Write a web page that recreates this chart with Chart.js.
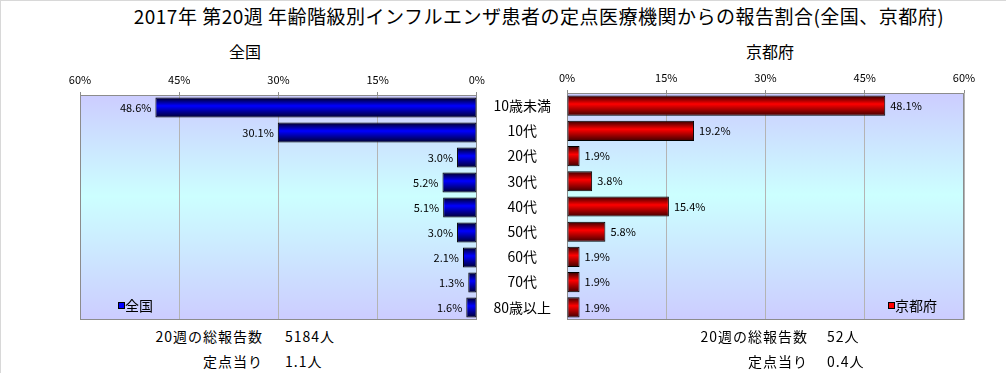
<!DOCTYPE html>
<html><head><meta charset="utf-8">
<script src="https://cdn.jsdelivr.net/npm/chart.js@4.4.1/dist/chart.umd.min.js"></script>
<style>
body{margin:0;background:#fff;}
#wrap{position:relative;width:1006px;height:373px;overflow:hidden;font-family:"Noto Sans CJK JP",sans-serif;color:#000;background:#fff;border-top:1px solid #d8d8d8;border-left:1px solid #d8d8d8;box-sizing:border-box;}
.t{position:absolute;white-space:nowrap;}
canvas{position:absolute;}
</style></head><body>
<div id="wrap">
  <div class="t" id="title" style="left:0;width:1076px;top:5px;text-align:center;font-size:19px;line-height:20px;letter-spacing:0.5px;"></div>
  <div class="t" id="subL" style="left:144px;width:200px;top:41px;text-align:center;font-size:16px;line-height:18px;"></div>
  <div class="t" id="subR" style="left:669px;width:200px;top:41px;text-align:center;font-size:16px;line-height:18px;"></div>
  <canvas id="cL" width="490" height="265" style="left:0;top:60px;"></canvas>
  <canvas id="cR" width="510" height="267" style="left:480px;top:58px;"></canvas>
  <div class="t" id="sumL1a" style="left:62px;width:200px;top:326px;text-align:right;font-size:14px;line-height:18px;letter-spacing:1px;"></div>
  <div class="t" id="sumL1b" style="left:284px;top:326px;font-size:14px;line-height:18px;letter-spacing:1px;"></div>
  <div class="t" id="sumL2a" style="left:62px;width:200px;top:351px;text-align:right;font-size:14px;line-height:18px;letter-spacing:1px;"></div>
  <div class="t" id="sumL2b" style="left:284px;top:351px;font-size:14px;line-height:18px;letter-spacing:1px;"></div>
  <div class="t" id="sumR1a" style="left:607px;width:200px;top:326px;text-align:right;font-size:14px;line-height:18px;letter-spacing:1px;"></div>
  <div class="t" id="sumR1b" style="left:826px;top:326px;font-size:14px;line-height:18px;letter-spacing:1px;"></div>
  <div class="t" id="sumR2a" style="left:607px;width:200px;top:351px;text-align:right;font-size:14px;line-height:18px;letter-spacing:1px;"></div>
  <div class="t" id="sumR2b" style="left:826px;top:351px;font-size:14px;line-height:18px;letter-spacing:1px;"></div>
</div>
<script>
// ---- data ----
const titleText = '2017年 第20週 年齢階級別インフルエンザ患者の定点医療機関からの報告割合(全国、京都府)';
const leftName = '全国';
const rightName = '京都府';
const categories = ['10歳未満','10代','20代','30代','40代','50代','60代','70代','80歳以上'];
const nationalValues = [48.6, 30.1, 3.0, 5.2, 5.1, 3.0, 2.1, 1.3, 1.6];
const kyotoValues = [48.1, 19.2, 1.9, 3.8, 15.4, 5.8, 1.9, 1.9, 1.9];
const axisMin = 0, axisMax = 60, axisStep = 15;
const summaryLabels = ['20週の総報告数', '定点当り'];
const nationalSummary = ['5184人', '1.1人'];
const kyotoSummary = ['52人', '0.4人'];

document.getElementById('title').textContent = titleText;
document.getElementById('subL').textContent = leftName;
document.getElementById('subR').textContent = rightName;
document.getElementById('sumL1a').textContent = summaryLabels[0];
document.getElementById('sumL2a').textContent = summaryLabels[1];
document.getElementById('sumR1a').textContent = summaryLabels[0];
document.getElementById('sumR2a').textContent = summaryLabels[1];
document.getElementById('sumL1b').textContent = nationalSummary[0];
document.getElementById('sumL2b').textContent = nationalSummary[1];
document.getElementById('sumR1b').textContent = kyotoSummary[0];
document.getElementById('sumR2b').textContent = kyotoSummary[1];

const FONT = '"Noto Sans CJK JP", sans-serif';

function barGradient(c0, c1, c2) {
  return function (ctx) {
    const chart = ctx.chart;
    if (!chart.chartArea || ctx.dataIndex === undefined) return c1;
    const ys = chart.scales.y;
    const y = ys.getPixelForValue(ctx.dataIndex);
    const h = ys.height / categories.length * 0.8;
    const g = chart.ctx.createLinearGradient(0, y - h / 2, 0, y + h / 2);
    g.addColorStop(0, c0);
    g.addColorStop(0.42, c1);
    g.addColorStop(1, c2);
    return g;
  };
}

const areaPlugin = {
  id: 'area',
  beforeDraw(chart) {
    const {ctx, chartArea: a} = chart;
    const g = ctx.createLinearGradient(0, a.top, 0, a.bottom);
    g.addColorStop(0, '#ccccff');
    g.addColorStop(0.45, '#ccffff');
    g.addColorStop(1, '#ccccff');
    ctx.save();
    ctx.fillStyle = g;
    ctx.fillRect(a.left, a.top, a.right - a.left, a.bottom - a.top);
    ctx.restore();
  },
  beforeDatasetsDraw(chart) {
    const {ctx, chartArea: a} = chart;
    ctx.save();
    ctx.strokeStyle = '#8c8c8c';
    ctx.lineWidth = 1;
    ctx.strokeRect(Math.round(a.left) + 0.5, Math.round(a.top) + 0.5, Math.round(a.right - a.left) - 1, Math.round(a.bottom - a.top) - 1);
    ctx.restore();
  },
  afterDatasetsDraw(chart, args, opts) {
    const {ctx, chartArea: a} = chart;
    const meta = chart.getDatasetMeta(0);
    const vals = chart.data.datasets[0].data;
    ctx.save();
    ctx.font = '11px ' + FONT;
    ctx.fillStyle = '#000';
    ctx.textBaseline = 'middle';
    meta.data.forEach((el, i) => {
      const txt = vals[i].toFixed(1) + '%';
      if (opts.side === 'left') {
        ctx.textAlign = 'right';
        ctx.fillText(txt, el.x - 4, el.y);
      } else {
        ctx.textAlign = 'left';
        ctx.fillText(txt, el.x + 5, el.y);
      }
    });
    // legend inside plot area
    const lx = opts.side === 'left' ? a.left + 38 : a.right - 76;
    const ly = a.bottom - 14;
    ctx.fillStyle = opts.color;
    ctx.fillRect(lx, ly - 3, 6, 6);
    ctx.strokeStyle = '#000';
    ctx.strokeRect(lx + 0.5, ly - 3.5, 6, 6);
    ctx.fillStyle = '#000';
    ctx.font = '14px ' + FONT;
    ctx.textAlign = 'left';
    ctx.fillText(chart.data.datasets[0].label, lx + 7, ly);
    ctx.restore();
  }
};

function xScale(reverse) {
  return {
    type: 'linear', position: 'top', reverse: reverse,
    min: axisMin, max: axisMax,
    ticks: { stepSize: axisStep, callback: v => v + '%', font: {size: 11, family: FONT}, color: '#000', padding: 6, maxRotation: 0 },
    grid: { color: '#b4b4b4', tickLength: 3, tickColor: '#8c8c8c' },
    border: { display: false },
    afterFit(s) { s.height = 34; }
  };
}

new Chart(document.getElementById('cL'), {
  type: 'bar',
  data: { labels: categories, datasets: [{
    label: leftName, data: nationalValues,
    backgroundColor: barGradient('#000020', '#0000ff', '#000030'),
    borderColor: '#000', borderWidth: 1, borderSkipped: false,
    barPercentage: 0.8, categoryPercentage: 1.0
  }]},
  options: {
    indexAxis: 'y', responsive: false, animation: false,
    layout: { padding: { left: 79, right: 14, top: 0, bottom: 6 } },
    plugins: { legend: { display: false }, tooltip: { enabled: false }, area: { side: 'left', color: '#0000ff' } },
    scales: { x: xScale(true), y: { display: false } }
  },
  plugins: [areaPlugin]
});

new Chart(document.getElementById('cR'), {
  type: 'bar',
  data: { labels: categories, datasets: [{
    label: rightName, data: kyotoValues,
    backgroundColor: barGradient('#300000', '#ff0000', '#400000'),
    borderColor: '#000', borderWidth: 1, borderSkipped: false,
    barPercentage: 0.8, categoryPercentage: 1.0
  }]},
  options: {
    indexAxis: 'y', responsive: false, animation: false,
    layout: { padding: { left: 0, right: 27, top: 0, bottom: 6 } },
    plugins: { legend: { display: false }, tooltip: { enabled: false }, area: { side: 'right', color: '#ff0000' } },
    scales: {
      x: xScale(false),
      y: {
        ticks: { font: {size: 14, family: FONT}, color: '#000', crossAlign: 'center', padding: 16 },
        grid: { display: false, drawTicks: false },
        border: { display: false },
        afterFit(s) { s.width = 86; s.paddingTop = 0; s.paddingBottom = 0; }
      }
    }
  },
  plugins: [areaPlugin]
});
</script>
</body></html>
